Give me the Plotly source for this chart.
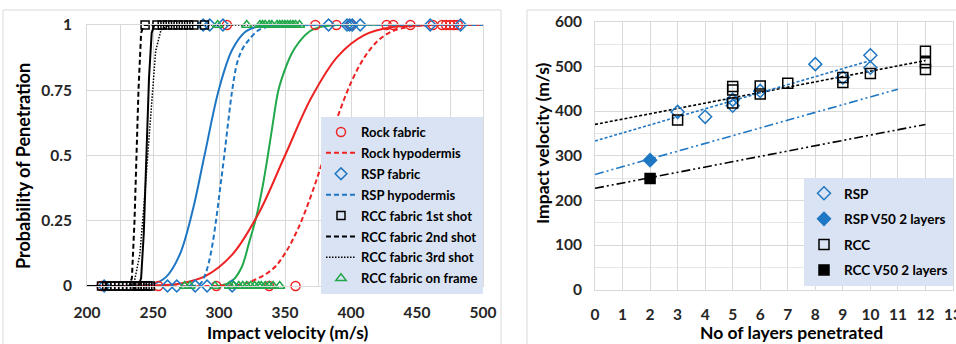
import plotly.graph_objects as go

# ---------------- Left chart data (velocity m/s, probability) ----------------
# Observed points: penetrated (P=1) and stopped (P=0)
rock_fabric_pen = [306, 373, 389, 400, 427, 432, 445, 462, 469, 472, 475, 478, 481]
rock_fabric_stop = [211, 254, 298, 338, 358]
rsp_fabric_pen = [288, 293, 303, 383, 397, 399, 401, 407, 460, 483]
rsp_fabric_stop = [213, 261, 268, 282, 291, 310]
rcc_1st_pen = [244, 253, 257, 261, 265, 269, 273, 277, 281, 289]
rcc_1st_stop = [211, 215, 218, 221, 224, 227, 230, 233, 236, 238, 240, 242, 244, 246, 248]
rcc_frame_pen = [299, 321, 331, 333, 335, 338, 340, 344, 346, 348, 350, 352, 354, 356, 358, 361]
rcc_frame_stop = [274, 278, 297, 308, 311, 315, 318, 321, 324, 327, 330, 332, 335, 338, 341, 346]

# Fitted probability curves
rock_fit_v = [210, 250, 270, 290, 310, 330, 350, 370, 390, 410, 430, 450, 470, 500]
rock_fit_p = [0, 0.002, 0.009, 0.039, 0.12, 0.278, 0.5, 0.722, 0.88, 0.961, 0.991, 0.998, 1.0, 1.0]
rock_hyp_v = [210, 300, 320, 340, 350, 360, 370, 380, 390, 400, 410, 420, 430, 445, 460, 480, 500]
rock_hyp_p = [0, 0.001, 0.01, 0.062, 0.125, 0.221, 0.35, 0.5, 0.65, 0.779, 0.875, 0.938, 0.973, 0.994, 0.999, 1.0, 1.0]
rsp_fit_v = [200, 240, 250, 260, 270, 280, 289, 300, 310, 320, 330, 345, 500]
rsp_fit_p = [0, 0.001, 0.007, 0.035, 0.117, 0.288, 0.5, 0.755, 0.905, 0.974, 0.995, 1.0, 1.0]
rsp_hyp_v = [200, 280, 286, 290, 294, 298, 301, 304, 307, 310, 314, 318, 323, 330, 340, 350, 500]
rsp_hyp_p = [0, 0, 0.01, 0.05, 0.13, 0.26, 0.38, 0.5, 0.63, 0.75, 0.86, 0.91, 0.945, 0.98, 0.997, 1.0, 1.0]
frame_fit_v = [200, 300, 310, 317, 323, 328, 333, 337, 341, 345, 350, 355, 360, 366, 372, 380, 390, 500]
frame_fit_p = [0, 0, 0.02, 0.07, 0.17, 0.26, 0.38, 0.5, 0.63, 0.75, 0.83, 0.89, 0.93, 0.965, 0.985, 0.995, 1.0, 1.0]
rcc1_fit_v = [200, 239, 241, 243, 245, 247, 249, 251, 290]
rcc1_fit_p = [0, 0, 0.03, 0.2, 0.5, 0.8, 0.97, 1.0, 1.0]
rcc2_v = [200, 232, 234, 236, 237.5, 239, 241, 243, 270]
rcc2_p = [0, 0, 0.03, 0.25, 0.5, 0.75, 0.97, 1.0, 1.0]
rcc3_v = [200, 233, 236, 240, 243, 246, 249, 252, 256, 262, 331]
rcc3_p = [0, 0, 0.02, 0.12, 0.3, 0.5, 0.72, 0.9, 0.98, 1.0, 1.0]

# ---------------- Right chart data ----------------
rsp_layers = [3, 4, 5, 5, 6, 8, 9, 10, 10]
rsp_vel = [398, 387, 412, 425, 445, 505, 475, 525, 497]
rcc_layers = [3, 5, 5, 5, 6, 6, 7, 9, 9, 10, 12, 12, 12]
rcc_vel = [380, 455, 447, 418, 456, 438, 462, 475, 464, 484, 534, 508, 493]
rsp_v50_layers = [2]
rsp_v50_vel = [290]
rcc_v50_layers = [2]
rcc_v50_vel = [249]
rcc_trend_x = [0, 12]
rcc_trend_y = [370, 513]
rsp_trend_x = [0, 10]
rsp_trend_y = [333, 513]
rsp_v50_line_x = [0, 11]
rsp_v50_line_y = [258, 449]
rcc_v50_line_x = [0, 12]
rcc_v50_line_y = [227, 370]
layer_ticks = list(range(0, 14))

RED = "#ee2222"
BLUE = "#1f77c4"
GREEN = "#21a84a"
BLACK = "#000000"
FONT = "Lato"
GRID = "#d9d9d9"
LEGBG = "#dae3f3"

W, H = 956, 344
fig = go.Figure()

def curve(v, p, color, dash, name=None, show=False, group=None, shape="spline", width=2):
    fig.add_trace(go.Scatter(x=v, y=p, mode="lines", name=name, showlegend=show,
                             legendgroup=group, legend="legend",
                             line=dict(color=color, dash=dash, width=width, shape=shape),
                             xaxis="x", yaxis="y", cliponaxis=False, hoverinfo="skip"))

def points(pen, stop, symbol, color, name, size, group):
    fig.add_trace(go.Scatter(x=pen + stop, y=[1] * len(pen) + [0] * len(stop), mode="markers",
                             name=name, legendgroup=group, legend="legend",
                             marker=dict(symbol=symbol, size=size, color=color,
                                         line=dict(color=color, width=1.5)),
                             xaxis="x", yaxis="y", cliponaxis=False))

# unlisted fitted curves + listed hypodermis/shot curves
curve(rsp_fit_v, rsp_fit_p, BLUE, "solid")
curve(frame_fit_v, frame_fit_p, GREEN, "solid")
curve(rock_fit_v, rock_fit_p, RED, "solid")
curve(rcc1_fit_v, rcc1_fit_p, BLACK, "solid", shape="linear")

points(rock_fabric_pen, rock_fabric_stop, "circle-open", RED, "Rock fabric", 9, "g1")
curve(rock_hyp_v, rock_hyp_p, RED, "5px,3px", "Rock hypodermis", True, "g2")
points(rsp_fabric_pen, rsp_fabric_stop, "diamond-open", BLUE, "RSP fabric", 9, "g3")
curve(rsp_hyp_v, rsp_hyp_p, BLUE, "5px,3px", "RSP hypodermis", True, "g4")
points(rcc_1st_pen, rcc_1st_stop, "square-open", BLACK, "RCC fabric 1st shot", 8, "g5")
curve(rcc2_v, rcc2_p, BLACK, "5px,3px", "RCC fabric 2nd shot", True, "g6", shape="linear")
curve(rcc3_v, rcc3_p, BLACK, "1.5px,1.5px", "RCC fabric 3rd shot", True, "g7", shape="linear", width=1.5)
points(rcc_frame_pen, rcc_frame_stop, "triangle-up-open", GREEN, "RCC fabric on frame", 9, "g8")

# ---------------- Right chart traces ----------------
def rline(x, y, color, dash):
    fig.add_trace(go.Scatter(x=x, y=y, mode="lines", showlegend=False,
                             line=dict(color=color, dash=dash, width=1.6),
                             xaxis="x2", yaxis="y2", hoverinfo="skip"))

rline(rcc_trend_x, rcc_trend_y, BLACK, "3px,2px")
rline(rsp_trend_x, rsp_trend_y, BLUE, "3px,2px")
rline(rsp_v50_line_x, rsp_v50_line_y, BLUE, "9px,3px,2px,3px,2px,3px")
rline(rcc_v50_line_x, rcc_v50_line_y, BLACK, "9px,3px,2px,3px,2px,3px")

def rpts(x, y, symbol, color, name, group):
    fig.add_trace(go.Scatter(x=x, y=y, mode="markers", name=name, legend="legend2",
                             legendgroup=group,
                             marker=dict(symbol=symbol, size=10, color=color,
                                         line=dict(color=color, width=1.5)),
                             xaxis="x2", yaxis="y2", cliponaxis=False))

rpts(rsp_layers, rsp_vel, "diamond-open", BLUE, "RSP", "r1")
rpts(rsp_v50_layers, rsp_v50_vel, "diamond", BLUE, "RSP V50 2 layers", "r2")
rpts(rcc_layers, rcc_vel, "square-open", BLACK, "RCC", "r3")
rpts(rcc_v50_layers, rcc_v50_vel, "square", BLACK, "RCC V50 2 layers", "r4")

def px_x(p):
    return p / W

def px_y(p):
    return (H - p) / H

tickfont = dict(family=FONT, size=15.5, color="#262626", weight="bold")
common = dict(showgrid=True, gridcolor=GRID, gridwidth=1, zeroline=False,
              showline=True, linecolor=GRID, linewidth=1, mirror=True, automargin=False,
              ticklabeloverflow="allow",
              ticks="outside", tickcolor="rgba(0,0,0,0)", tickfont=tickfont)

fig.update_layout(
    width=W, height=H, margin=dict(l=0, r=0, t=0, b=0, pad=0, autoexpand=False),
    paper_bgcolor="white", plot_bgcolor="white",
    font=dict(family=FONT, color="#000000"),
    xaxis=dict(domain=[px_x(87), px_x(483)], range=[200, 500], tick0=200, dtick=50,
               minor=dict(dtick=25, showgrid=True, gridcolor=GRID), ticklen=12,
               anchor="y", **common),
    yaxis=dict(domain=[px_y(286), px_y(25)], range=[0, 1], dtick=0.25, ticklen=11,
               anchor="x", **common),
    xaxis2=dict(domain=[px_x(595), px_x(953)], range=[0, 13], tickmode="array",
                tickvals=layer_ticks, ticktext=[str(t) for t in layer_ticks], ticklen=11,
                anchor="y2", **common),
    yaxis2=dict(domain=[px_y(289.7), px_y(21.7)], range=[0, 600], dtick=100, ticklen=9,
                minor=dict(dtick=50, showgrid=True, gridcolor="#e6e6e6"),
                anchor="x2", **common),
    legend=dict(x=px_x(483), xanchor="right", y=px_y(117), yanchor="top",
                bgcolor=LEGBG, borderwidth=0, itemwidth=30, tracegroupgap=1,
                font=dict(family=FONT, size=13, color="#000000", weight="bold")),
    legend2=dict(x=px_x(953), xanchor="right", y=px_y(178), yanchor="top",
                 bgcolor=LEGBG, borderwidth=0, itemwidth=30, tracegroupgap=5,
                 font=dict(family=FONT, size=13.5, color="#000000", weight="bold")),
    shapes=[
        dict(type="rect", xref="paper", yref="paper", x0=px_x(3), x1=px_x(501),
             y0=-0.05, y1=px_y(10), line=dict(color=GRID, width=1), layer="below"),
        dict(type="rect", xref="paper", yref="paper", x0=px_x(527), x1=1.05,
             y0=-0.05, y1=px_y(10), line=dict(color=GRID, width=1), layer="below"),
    ],
    annotations=[
        dict(text="Probability of Penetration", xref="paper", yref="paper",
             x=px_x(23), y=px_y(166), textangle=-90, showarrow=False,
             xanchor="center", yanchor="middle",
             font=dict(family=FONT, size=18, weight="bold")),
        dict(text="Impact velocity (m/s)", xref="paper", yref="paper",
             x=px_x(288), y=px_y(332), showarrow=False,
             xanchor="center", yanchor="middle",
             font=dict(family=FONT, size=17.5, weight="bold")),
        dict(text="Impact velocity (m/s)", xref="paper", yref="paper",
             x=px_x(542), y=px_y(143), textangle=-90, showarrow=False,
             xanchor="center", yanchor="middle",
             font=dict(family=FONT, size=17.5, weight="bold")),
        dict(text="No of layers penetrated", xref="paper", yref="paper",
             x=px_x(791), y=px_y(332), showarrow=False,
             xanchor="center", yanchor="middle",
             font=dict(family=FONT, size=17.5, weight="bold")),
    ],
)

fig.write_html("out.html")
